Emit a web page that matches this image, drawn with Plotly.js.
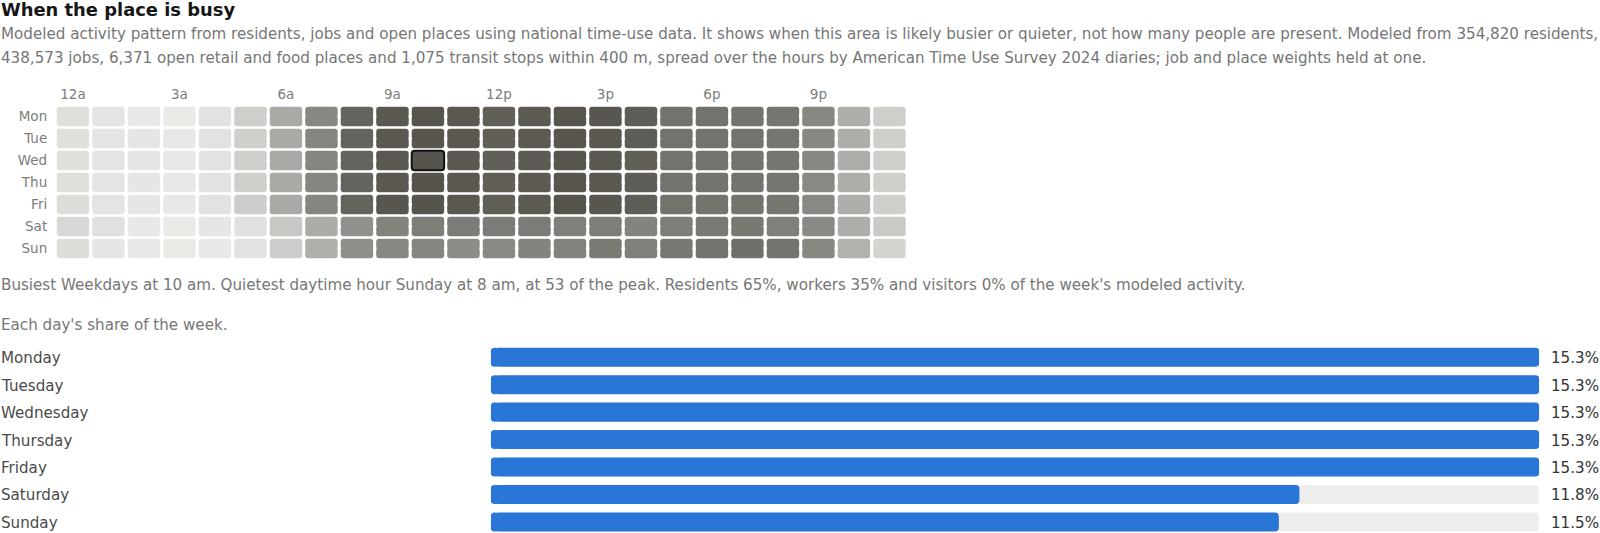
<!DOCTYPE html>
<html>
<head>
<meta charset="utf-8">
<script src="https://cdn.plot.ly/plotly-3.0.1.min.js"></script>
<style>
  html, body { margin: 0; padding: 0; background: #fff; overflow: hidden; }
</style>
</head>
<body>
<div id="myDiv" style="width:1600px;height:533px"></div>
<script>
// activity per hour, 100 = busiest hour of the week
const shortDays = ["Mon", "Tue", "Wed", "Thu", "Fri", "Sat", "Sun"];
const monRow = [9, 6, 4, 3, 7, 18, 38, 59, 88, 97, 99, 97, 91, 95, 99, 98, 93, 76, 76, 75, 73, 59, 36, 18];
const tueRow = [9, 6, 5, 4, 7, 18, 38, 60, 88, 97, 99, 97, 91, 95, 99, 97, 93, 76, 76, 75, 73, 59, 36, 18];
const wedRow = [9, 6, 5, 4, 7, 18, 38, 60, 88, 97, 100, 97, 91, 95, 99, 97, 92, 76, 76, 75, 73, 59, 36, 18];
const thuRow = [9, 6, 5, 4, 7, 18, 38, 60, 88, 97, 100, 97, 91, 95, 99, 97, 93, 76, 76, 75, 73, 58, 36, 18];
const friRow = [10, 6, 5, 4, 7, 19, 38, 60, 89, 98, 100, 97, 92, 96, 100, 98, 93, 76, 75, 75, 73, 58, 36, 18];
const satRow = [13, 8, 4, 3, 5, 8, 22, 37, 52, 63, 67, 68, 68, 68, 65, 67, 62, 67, 70, 71, 65, 57, 36, 21];
const sunRow = [10, 5, 4, 3, 4, 7, 19, 35, 53, 59, 61, 55, 57, 62, 63, 70, 65, 71, 76, 78, 76, 59, 34, 15];
const hourTicks = [0, 3, 6, 9, 12, 15, 18, 21];
const hourLabels = ["12a", "3a", "6a", "9a", "12p", "3p", "6p", "9p"];
const peakDay = 2;
const peakHour = 10;

const dayNames = ["Monday", "Tuesday", "Wednesday", "Thursday", "Friday", "Saturday", "Sunday"];
const dayShares = [15.3, 15.3, 15.3, 15.3, 15.3, 11.8, 11.5];

const W = 1600, H = 533;
const rows = [monRow, tueRow, wedRow, thuRow, friRow, satRow, sunRow];
const cellH = 0.886; // share of a row the cell fills
const cellW = 0.915;
const cellColors = [[0, "#f0efed"], [0.53, "#8f8e8a"], [1, "#57544e"]];

// plotly only rounds the far end of a bar, so every cell is two halves
// growing out from its middle, with a small overlap to hide the seam
const seam = 0.05;
let cellX = [], cellBaseUp = [], cellBaseDown = [], cellVal = [];
rows.forEach((row, d) => row.forEach((v, h) => {
  cellX.push(h);
  cellBaseUp.push(d - seam);
  cellBaseDown.push(d + seam);
  cellVal.push(v);
}));
const cellHalf = cellH / 2 + seam;

const cellTrace = (base, len) => ({
  type: "bar",
  x: cellX,
  y: cellX.map(() => len),
  base: base,
  width: cellW,
  xaxis: "x",
  yaxis: "y",
  hoverinfo: "skip",
  marker: {
    color: cellVal,
    cmin: 0,
    cmax: 100,
    colorscale: cellColors,
    showscale: false,
    cornerradius: 3,
    line: { width: 0 },
  },
});

// long bar rounds the right end, a short cap pointing back rounds the left end
const capLen = 0.12;
const shareTrace = (values, color) => [
  {
    type: "bar",
    orientation: "h",
    x: values.map((v) => v - capLen / 2),
    base: values.map(() => capLen / 2),
    y: dayNames,
    xaxis: "x2",
    yaxis: "y2",
    hoverinfo: "skip",
    marker: { color: color, cornerradius: 4 },
  },
  {
    type: "bar",
    orientation: "h",
    x: values.map(() => -capLen),
    base: values.map(() => capLen),
    y: dayNames,
    xaxis: "x2",
    yaxis: "y2",
    hoverinfo: "skip",
    marker: { color: color, cornerradius: 4 },
  },
];

const trackValues = dayNames.map(() => Math.max(...dayShares));

// black outline round the busiest cell, in axis units
const rx = 3 / 35.5, ry = 3 / 22;
const px0 = peakHour - cellW / 2, px1 = peakHour + cellW / 2;
const py0 = peakDay - cellH / 2, py1 = peakDay + cellH / 2;
const peakPath =
  `M ${px0 + rx},${py0} L ${px1 - rx},${py0} Q ${px1},${py0} ${px1},${py0 + ry} ` +
  `L ${px1},${py1 - ry} Q ${px1},${py1} ${px1 - rx},${py1} ` +
  `L ${px0 + rx},${py1} Q ${px0},${py1} ${px0},${py1 - ry} ` +
  `L ${px0},${py0 + ry} Q ${px0},${py0} ${px0 + rx},${py0} Z`;

const fontName = "DejaVu Sans";
const note = (text, xPx, yPx, size, color, bold) => ({
  text: bold ? "<b>" + text + "</b>" : text,
  xref: "paper", yref: "paper",
  x: xPx / W, y: 1 - yPx / H,
  xanchor: "left", yanchor: "middle",
  showarrow: false, borderpad: 0,
  font: { family: fontName, size: size, color: color },
});

let annotations = [
  note("When the place is busy", 0, 9, 17.9, "#161616", true),
  note("Modeled activity pattern from residents, jobs and open places using national time-use data. It shows when this area is likely busier or quieter, not how many people are present. Modeled from 354,820 residents,", 0, 34, 15.14, "#767676"),
  note("438,573 jobs, 6,371 open retail and food places and 1,075 transit stops within 400 m, spread over the hours by American Time Use Survey 2024 diaries; job and place weights held at one.", 0, 58, 15.14, "#767676"),
  note("Busiest Weekdays at 10 am. Quietest daytime hour Sunday at 8 am, at 53 of the peak. Residents 65%, workers 35% and visitors 0% of the week's modeled activity.", 0, 285, 15.14, "#767676"),
  note("Each day's share of the week.", 0, 325, 15.14, "#767676"),
];
dayNames.forEach((name, i) => {
  annotations.push({
    text: name, xref: "paper", yref: "y2", x: 0, y: name, yshift: -1,
    xanchor: "left", yanchor: "middle", showarrow: false, borderpad: 0,
    font: { family: fontName, size: 15.14, color: "#4a4a4a" },
  });
  annotations.push({
    text: dayShares[i].toFixed(1) + "%", xref: "paper", yref: "y2", x: 1549.5 / W, y: name, yshift: -1,
    xanchor: "left", yanchor: "middle", showarrow: false, borderpad: 0,
    font: { family: fontName, size: 15.14, color: "#333333" },
  });
});

let layout = {
  width: W,
  height: H,
  margin: { l: 0, r: 0, t: 0, b: 0 },
  paper_bgcolor: "#ffffff",
  plot_bgcolor: "#ffffff",
  showlegend: false,
  barmode: "overlay",
  bargap: 0.307,
  font: { family: fontName },
  xaxis: {
    domain: [55.2 / W, 907.2 / W],
    range: [-0.5, 23.5],
    side: "top",
    anchor: "y",
    tickvals: hourTicks,
    ticktext: hourLabels,
    tickfont: { size: 13.5, color: "#7c7c7c" },
    showgrid: false,
    zeroline: false,
    ticks: "",
    ticklabelstandoff: 3,
  },
  yaxis: {
    domain: [1 - 259.5 / H, 1 - 105.6 / H],
    range: [6.5, -0.5],
    anchor: "x",
    tickvals: shortDays.map((d, i) => i),
    ticktext: shortDays,
    tickfont: { size: 13.5, color: "#7c7c7c" },
    showgrid: false,
    zeroline: false,
    ticks: "",
    ticklabelstandoff: 7,
  },
  xaxis2: {
    domain: [490.7 / W, 1539.3 / W],
    range: [0, 15.3],
    anchor: "y2",
    visible: false,
  },
  yaxis2: {
    domain: [0, 1 - 343.5 / H],
    type: "category",
    categoryarray: dayNames,
    range: [6.404, -0.5],
    anchor: "x2",
    visible: false,
  },
  shapes: [
    { type: "path", xref: "x", yref: "y", path: peakPath, line: { color: "#111111", width: 2 }, fillcolor: "rgba(0,0,0,0)" },
  ],
  annotations: annotations,
};

let traces = [
  cellTrace(cellBaseUp, cellHalf),
  cellTrace(cellBaseDown, -cellHalf),
  ...shareTrace(trackValues, "#efeeed"),
  ...shareTrace(dayShares, "#2a76d6"),
];

Plotly.newPlot("myDiv", traces, layout, { displayModeBar: false, staticPlot: true });
</script>
</body>
</html>
